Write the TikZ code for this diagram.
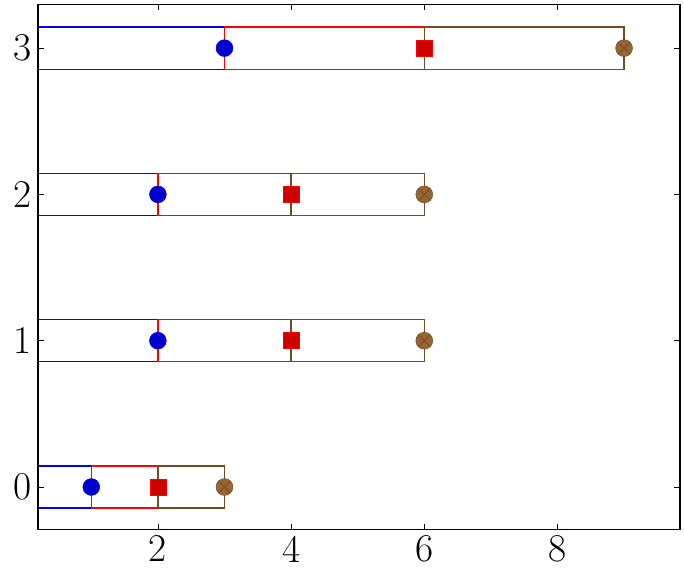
\documentclass[tikz,border=0pt]{standalone}
\usetikzlibrary{positioning}
\tikzset{
  barseg/.style={line width=0.9pt, fill=white},
  dotmark/.style={circle, inner sep=0pt, minimum size=0.42cm},
  sqmark/.style={rectangle, inner sep=0pt, minimum size=0.4cm},
  ticklab/.style={font=\fontsize{28}{32}\selectfont},
}
\colorlet{mkblue}{blue!80!black}
\colorlet{mkred}{red!80!black}
\colorlet{mkbrown}{brown!60!black}
\begin{document}
\begin{tikzpicture}[x=1.665cm, y=3.6575cm]
\useasboundingbox (-0.371,-0.622) rectangle (9.90,3.329);
% bars, clipped to the axis box
\begin{scope}
\clip (0.2,-0.29) rectangle (9.84,3.3);
\foreach \yy/\a in {0/1,1/2,2/2,3/3} {
  \draw[barseg, draw=blue] (0,\yy-0.144) rectangle (\a,\yy+0.144);
  \draw[barseg, draw=red] (\a,\yy-0.144) rectangle (2*\a,\yy+0.144);
  \draw[barseg, draw=mkbrown] (2*\a,\yy-0.144) rectangle (3*\a,\yy+0.144);
}
\end{scope}
% marks
\foreach \yy/\a in {0/1,1/2,2/2,3/3} {
  \node[dotmark, fill=mkblue, draw=blue!90!black] (b\yy) at (\a,\yy) {};
  \node[sqmark, fill=mkred, draw=red] (r\yy) at (2*\a,\yy) {};
  \node[dotmark, fill=brown!80!black, draw=mkbrown] (n\yy) at (3*\a,\yy) {};
  \draw[mkbrown, line width=0.6pt] (n\yy.north west) -- (n\yy.south east)
    (n\yy.north east) -- (n\yy.south west);
}
% axis box
\draw[line width=0.9pt] (0.2,-0.29) rectangle (9.84,3.3);
% ticks
\foreach \t in {2,4,6,8} {
  \draw[line width=0.5pt] (\t,-0.29) -- ++(0,0.04) (\t,3.3) -- ++(0,-0.04);
  \node[ticklab, below=1pt] (xt\t) at (\t,-0.29) {\t};
}
\foreach \t in {0,1,2,3} {
  \draw[line width=0.5pt] (0.2,\t) -- ++(0.09,0) (9.84,\t) -- ++(-0.09,0);
  \node[ticklab, left=1pt] (yt\t) at (0.2,\t) {\t};
}
\end{tikzpicture}
\end{document}
